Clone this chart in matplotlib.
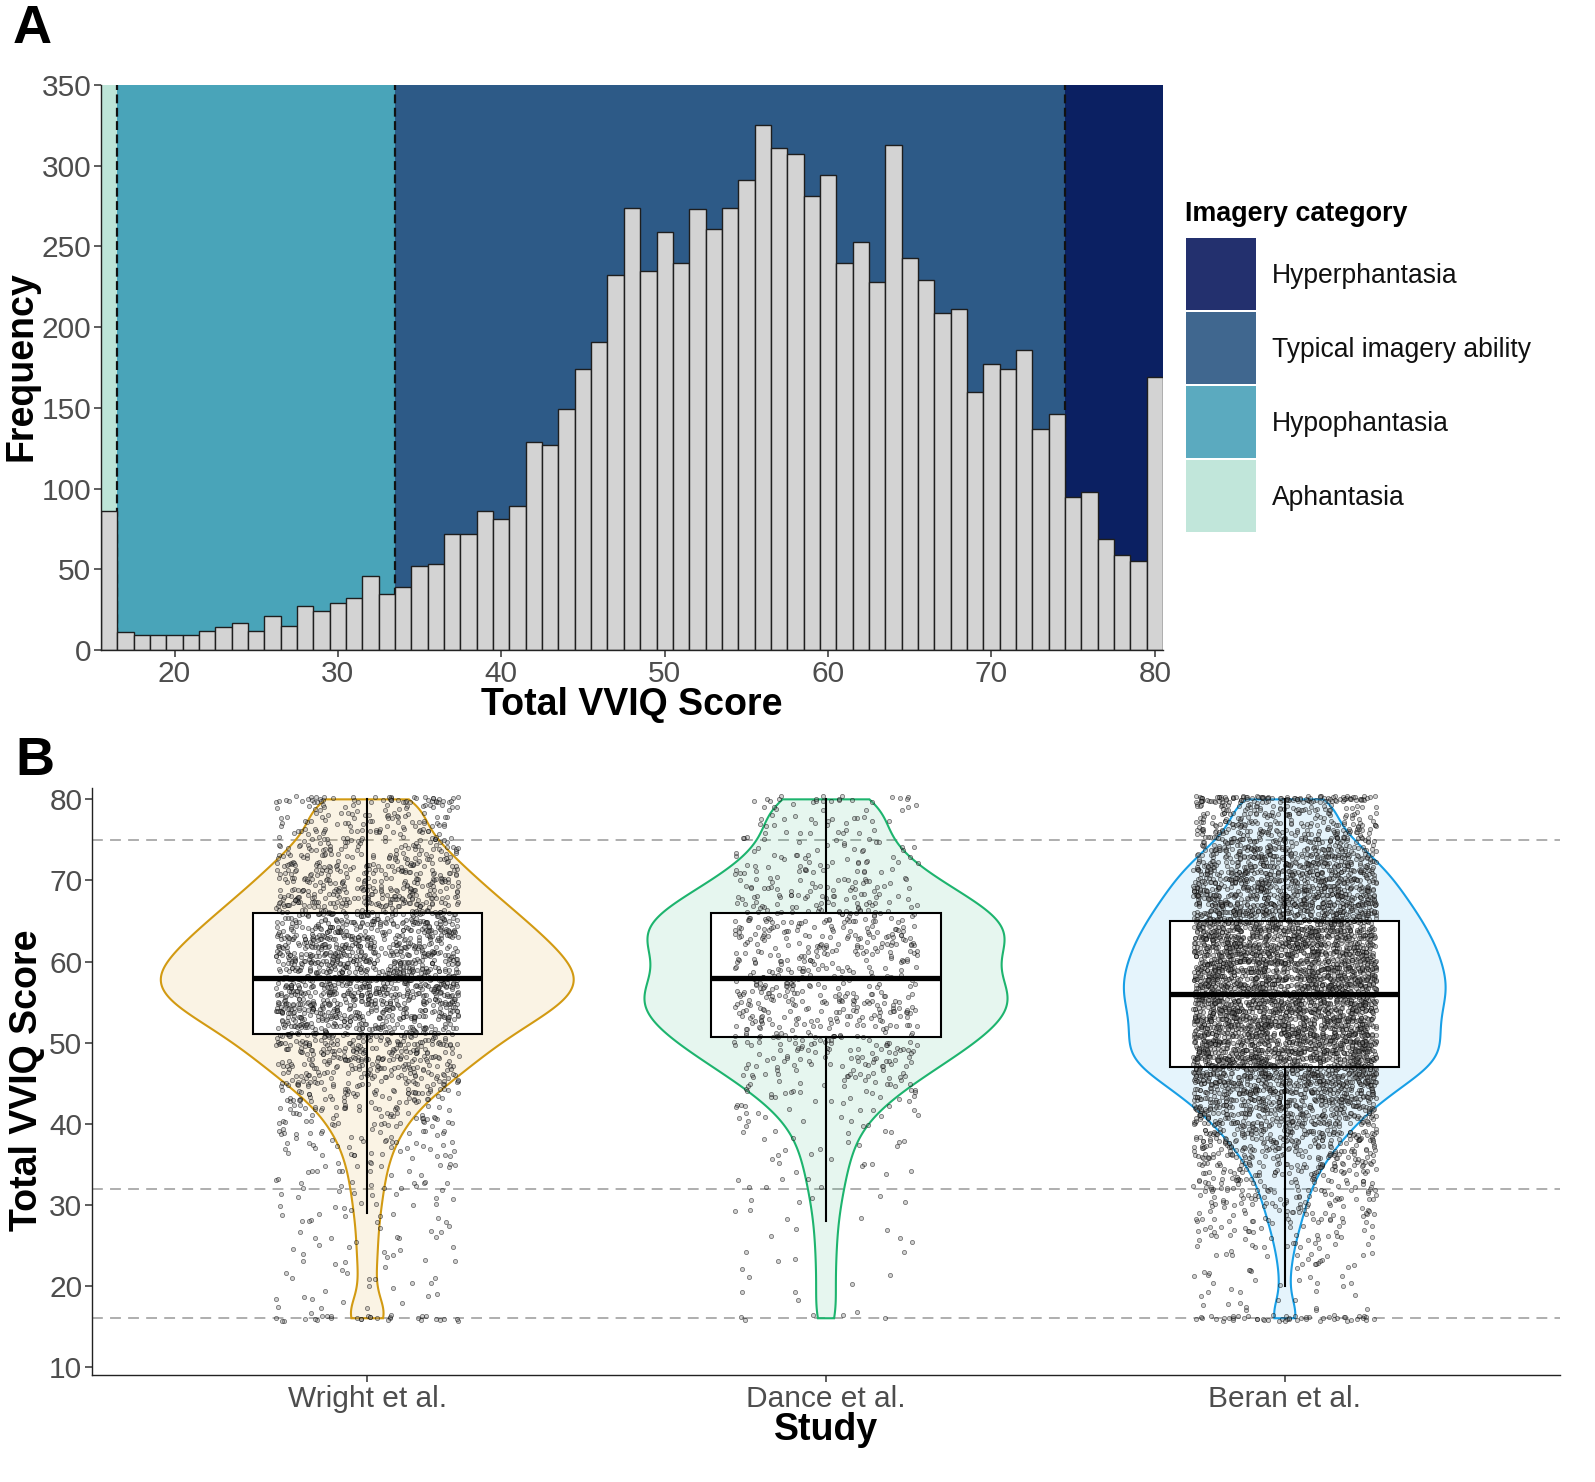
import numpy as np
import matplotlib
matplotlib.use('Agg')
import matplotlib.pyplot as plt
from matplotlib.patches import Rectangle, Polygon

plt.rcParams['font.family'] = ['Liberation Sans', 'DejaVu Sans']

# ---------------- Panel A data ----------------
hist_scores = list(range(16, 81))
hist_counts = [86, 11, 9, 9, 9, 9, 12, 14, 17, 12, 21, 15, 27, 24, 29, 32, 46, 35,
               39, 52, 53, 72, 72, 86, 81, 89, 129, 127, 149, 174, 191, 232, 274,
               235, 259, 240, 273, 261, 274, 291, 325, 311, 307, 281, 294, 240, 253,
               228, 313, 243, 229, 209, 211, 160, 177, 174, 186, 137, 146,
               95, 98, 69, 59, 55, 169]

category_names = ['Aphantasia', 'Hypophantasia', 'Typical imagery ability', 'Hyperphantasia']
category_edges = [15.5, 16.5, 33.5, 74.5, 80.5]
region_colors = ['#BDE5D8', '#49A4B9', '#2D5A87', '#0B2062']
legend_colors = ['#C1E6DA', '#5BAABF', '#40678F', '#23306E']

# ---------------- Panel B data ----------------
study_names = ['Wright et al.', 'Dance et al.', 'Beran et al.']
study_scores = list(range(16, 81))
# number of participants at each total score 16..80
wright_counts = [30,
                 4, 4, 4, 4, 4, 4, 5, 5, 5, 5, 5, 6, 6, 7, 7, 8,
                 8, 9, 10, 11, 12, 14, 16, 19,
                 21, 24, 29, 33, 38, 43, 48, 52, 57, 62,
                 67, 74, 80, 87, 93, 97, 100,
                 100,
                 97, 94, 90, 87, 83, 78, 74, 70,
                 65, 61, 56, 52, 48, 44,
                 40, 36, 32, 29, 26, 24, 22,
                 50]
dance_counts = [5,
                1, 1, 2, 1, 2, 1, 2, 2, 1, 2, 2,
                2, 2, 2, 3, 3, 3, 3, 4,
                4, 4, 5, 5, 6, 7, 9, 10, 12,
                14, 16, 18, 20, 22, 25,
                26, 27, 28, 31, 32, 31, 28,
                28, 26, 25, 27, 30, 31, 31, 30, 27,
                25, 23, 20, 18, 16, 14,
                12, 11, 10, 9, 9, 9, 9,
                20]
beran_counts = [50,
                5, 5, 5, 6, 6, 7, 8, 10,
                12, 14, 17, 20, 22, 25,
                28, 31, 34, 40, 45, 50, 60, 68, 75, 82,
                92, 105, 115, 128, 140, 160,
                170, 185, 185, 180,
                180, 180, 180, 182, 186,
                190, 190, 188, 185,
                182, 180, 176, 170, 166, 160,
                154, 148, 140, 134, 128, 122, 112,
                100, 90, 80, 70, 60, 52, 46,
                120]
study_counts = [wright_counts, dance_counts, beran_counts]
study_line_colors = ['#D29A12', '#1DB46E', '#189FE6']
threshold_lines = [16, 32, 75]

# ---------------- Figure ----------------
W, H = 1595, 1482
fig = plt.figure(figsize=(W / 100, H / 100), dpi=100)


def fx(px):
    return px / W


def fy(py):
    return 1 - py / H


tick_kw = dict(labelsize=21.5, labelcolor='#4D4D4D', color='#333333', length=5, width=1.1)

# ---------- Panel A ----------
axA = fig.add_axes([fx(101), fy(650), fx(1163) - fx(101), fy(85) - fy(650)])
for i in range(len(category_names)):
    axA.axvspan(category_edges[i], category_edges[i + 1], color=region_colors[i],
                lw=0, zorder=0)
for e in category_edges[1:-1]:
    axA.axvline(e, color='#111111', lw=1.6, linestyle=(0, (4, 2)), zorder=1)
axA.bar(hist_scores, hist_counts, width=1.0, color='#D3D3D3', edgecolor='#1E1E1E',
        linewidth=1.0, zorder=2)
axA.set_xlim(category_edges[0], category_edges[-1])
axA.set_ylim(0, 350)
axA.set_xticks([20, 30, 40, 50, 60, 70, 80])
axA.set_yticks(range(0, 351, 50))
axA.tick_params(axis='both', pad=2, **tick_kw)
for s in ['top', 'right']:
    axA.spines[s].set_visible(False)
for s in ['left', 'bottom']:
    axA.spines[s].set_color('#222222')
    axA.spines[s].set_linewidth(1.0)

fig.text(fx(13), fy(4), 'A', fontsize=39, fontweight='bold', ha='left', va='top')
fig.text(fx(22), fy(366), 'Frequency', fontsize=27, fontweight='bold', rotation=90,
         ha='center', va='center')
fig.text(fx(632), fy(705), 'Total VVIQ Score', fontsize=27, fontweight='bold',
         ha='center', va='center')

# legend (manual)
fig.text(fx(1185), fy(214), 'Imagery category', fontsize=19.4, fontweight='bold',
         ha='left', va='center')
key_top = 238
key_h = 72
key_gap = 2
for j, idx in enumerate([3, 2, 1, 0]):
    top = key_top + j * (key_h + key_gap)
    fig.add_artist(Rectangle((fx(1186), fy(top + key_h)), fx(1256) - fx(1186),
                             fy(top) - fy(top + key_h), transform=fig.transFigure,
                             facecolor=legend_colors[idx], edgecolor='none'))
    fig.text(fx(1272), fy(top + key_h / 2 + 2), category_names[idx], fontsize=19.1,
             ha='left', va='center', color='#111111')

# ---------- Panel B ----------
axB = fig.add_axes([fx(92), fy(1375), fx(1560) - fx(92), fy(788) - fy(1375)])
for t in threshold_lines:
    axB.axhline(t, color='#A8A8A8', lw=1.3, linestyle=(0, (6, 4)), zorder=1)

grid = np.linspace(16, 80, 512)
scores_arr = np.array(study_scores, dtype=float)
stats = []
for counts in study_counts:
    c = np.array(counts, dtype=float)
    data = np.repeat(scores_arr, np.array(counts))
    n = len(data)
    q1, med, q3 = np.percentile(data, [25, 50, 75])
    iqr = q3 - q1
    sd = data.std(ddof=1)
    bw = 0.9 * min(sd, iqr / 1.34) * n ** (-0.2)
    dens = (c[None, :] * np.exp(-0.5 * ((grid[:, None] - scores_arr[None, :]) / bw) ** 2)).sum(1)
    dens /= n * bw * np.sqrt(2 * np.pi)
    lo_w = data[data >= q1 - 1.5 * iqr].min()
    hi_w = data[data <= q3 + 1.5 * iqr].max()
    stats.append(dict(data=data, q1=q1, med=med, q3=q3, lo=lo_w, hi=hi_w, dens=dens))

dmax = max(s['dens'].max() for s in stats)
rng = np.random.default_rng(7)
for i, s in enumerate(stats):
    pos = i + 1
    col = study_line_colors[i]
    half = 0.45 * s['dens'] / dmax
    xs = np.concatenate([pos + half, (pos - half)[::-1]])
    ys = np.concatenate([grid, grid[::-1]])
    axB.add_patch(Polygon(np.column_stack([xs, ys]), closed=True,
                          facecolor=matplotlib.colors.to_rgba(col, 0.11), edgecolor='none',
                          zorder=2))
    axB.add_patch(Polygon(np.column_stack([xs, ys]), closed=True, facecolor='none',
                          edgecolor=col, lw=1.5, zorder=2.1))
    # box fill
    axB.add_patch(Rectangle((pos - 0.25, s['q1']), 0.5, s['q3'] - s['q1'],
                            facecolor='white', edgecolor='none', zorder=3))
    # jitter points
    d = s['data']
    jx = pos + rng.uniform(-0.2, 0.2, len(d))
    jy = d + rng.uniform(-0.4, 0.4, len(d))
    axB.scatter(jx, jy, s=9, facecolor=(0.5, 0.5, 0.5, 0.35),
                edgecolor=(0, 0, 0, 0.5), linewidths=0.6, zorder=4)
    # box lines
    axB.add_patch(Rectangle((pos - 0.25, s['q1']), 0.5, s['q3'] - s['q1'],
                            facecolor='none', edgecolor='black', lw=1.5, zorder=5))
    axB.plot([pos, pos], [s['q3'], s['hi']], color='black', lw=1.5, zorder=5)
    axB.plot([pos, pos], [s['lo'], s['q1']], color='black', lw=1.5, zorder=5)
    axB.plot([pos - 0.25, pos + 0.25], [s['med'], s['med']], color='black', lw=3.8,
             zorder=5, solid_capstyle='butt')

axB.set_xlim(0.4, 3.6)
axB.set_ylim(9.0, 81.4)
axB.set_xticks([1, 2, 3])
axB.set_xticklabels(study_names)
axB.set_yticks(range(10, 81, 10))
axB.tick_params(axis='both', pad=2, **tick_kw)
for s in ['top', 'right']:
    axB.spines[s].set_visible(False)
for s in ['left', 'bottom']:
    axB.spines[s].set_color('#222222')
    axB.spines[s].set_linewidth(1.0)

fig.text(fx(15), fy(736), 'B', fontsize=39, fontweight='bold', ha='left', va='top')
fig.text(fx(27), fy(1080), 'Total VVIQ Score', fontsize=27, fontweight='bold', rotation=90,
         ha='center', va='center')
fig.text(fx(826), fy(1430), 'Study', fontsize=27, fontweight='bold', ha='center',
         va='center')

fig.savefig('out.png', dpi=100)
